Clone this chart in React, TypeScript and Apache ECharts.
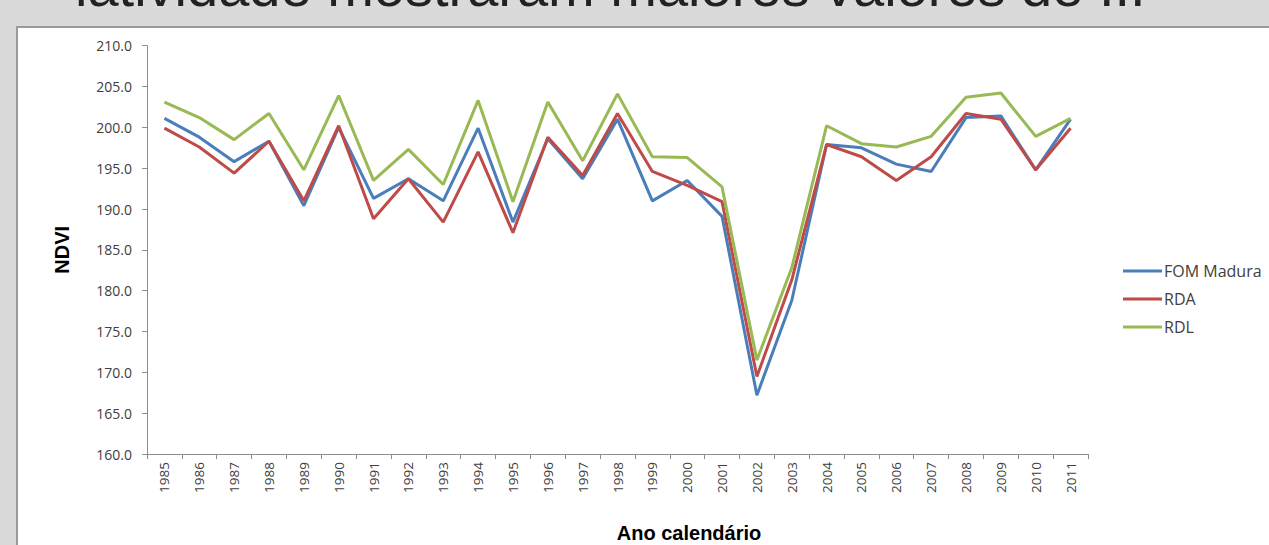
import React, { useEffect, useRef } from "react";
import * as echarts from "echarts";

const years = [
  "1985", "1986", "1987", "1988", "1989", "1990", "1991", "1992", "1993", "1994",
  "1995", "1996", "1997", "1998", "1999", "2000", "2001", "2002", "2003", "2004",
  "2005", "2006", "2007", "2008", "2009", "2010", "2011",
];

const fomMadura = [
  201.1, 198.8, 195.8, 198.3, 190.4, 200.0, 191.3, 193.7, 191.0, 199.9,
  188.4, 198.6, 193.7, 201.0, 191.0, 193.5, 189.1, 167.2, 178.8, 197.9,
  197.5, 195.5, 194.6, 201.2, 201.4, 194.8, 201.0,
];

const rda = [
  199.9, 197.6, 194.4, 198.3, 191.0, 200.2, 188.8, 193.7, 188.4, 197.0,
  187.1, 198.8, 194.1, 201.7, 194.6, 192.9, 190.9, 169.5, 181.3, 197.9,
  196.4, 193.5, 196.4, 201.7, 201.0, 194.8, 199.9,
];

const rdl = [
  203.1, 201.2, 198.5, 201.7, 194.8, 203.9, 193.5, 197.3, 193.0, 203.3,
  190.9, 203.1, 195.9, 204.1, 196.4, 196.3, 192.7, 171.5, 182.8, 200.2,
  198.0, 197.6, 198.9, 203.7, 204.2, 198.9, 201.1,
];

const seriesNames = ["FOM Madura", "RDA", "RDL"];
const seriesColors = ["#4a7ebb", "#be4b48", "#98b954"];

export default function App() {
  const ref = useRef<HTMLDivElement>(null);

  useEffect(() => {
    if (!ref.current) return;
    const chart = echarts.init(ref.current, undefined, { renderer: "svg" });
    const font = "'Liberation Sans', Arial, sans-serif";
    const labelFont = "'Open Sans', 'Liberation Sans', sans-serif";
    const data = [fomMadura, rda, rdl];
    chart.setOption({
      animation: false,
      backgroundColor: "#dadada",
      textStyle: { fontFamily: font },
      graphic: [
        {
          type: "text",
          x: 75,
          y: 14,
          z: -20,
          style: {
            text: "latividade mostraram maiores valores de ...",
            fontSize: 56,
            fontFamily: font,
            fill: "#222",
            verticalAlign: "bottom",
          },
        },
        {
          type: "rect",
          z: -10,
          shape: { x: 17, y: 27, width: 1260, height: 530 },
          style: { fill: "#ffffff", stroke: "#9a9a9a", lineWidth: 2 },
        },
        {
          type: "text",
          x: 689,
          y: 533,
          style: {
            text: "Ano calendário",
            fontSize: 20,
            fontWeight: "bold",
            fontFamily: font,
            fill: "#000",
            align: "center",
            verticalAlign: "middle",
          },
        },
      ],
      grid: { left: 147, top: 45.7, right: 181, bottom: 91, containLabel: false },
      legend: {
        orient: "vertical",
        left: 1118,
        top: 258,
        itemGap: 12,
        icon: "rect",
        itemWidth: 39,
        itemHeight: 3,
        data: seriesNames,
        textStyle: { fontSize: 16, color: "#404040", fontFamily: labelFont, padding: [0, 0, 0, -3] },
      },
      xAxis: {
        type: "category",
        data: years,
        boundaryGap: true,
        axisLine: { lineStyle: { color: "#8c8c8c", width: 1 } },
        axisTick: { show: true, length: 5, alignWithLabel: false, lineStyle: { color: "#8c8c8c" } },
        axisLabel: { rotate: 90, fontSize: 13.5, color: "#404040", margin: 8, interval: 0, fontFamily: labelFont },
        splitLine: { show: false },
      },
      yAxis: {
        type: "value",
        min: 160,
        max: 210,
        interval: 5,
        name: "NDVI",
        nameLocation: "middle",
        nameRotate: 90,
        nameGap: 75,
        nameTextStyle: { fontSize: 20, fontWeight: "bold", color: "#000", fontFamily: font },
        axisLine: { show: true, lineStyle: { color: "#8c8c8c", width: 1 } },
        axisTick: { show: true, length: 5, inside: false, lineStyle: { color: "#8c8c8c" } },
        axisLabel: {
          fontSize: 14,
          color: "#404040",
          margin: 15,
          fontFamily: labelFont,
          formatter: (v: number) => v.toFixed(1),
        },
        splitLine: { show: false },
      },
      series: seriesNames.map((name, i) => ({
        name,
        type: "line",
        data: data[i],
        symbol: "none",
        showSymbol: false,
        color: seriesColors[i],
        lineStyle: { width: 3, color: seriesColors[i] },
        z: 2 + i,
      })),
    });
    return () => chart.dispose();
  }, []);

  return (
    <div
      ref={ref}
      style={{ position: "absolute", left: 0, top: 0, width: 1269, height: 545 }}
    />
  );
}
